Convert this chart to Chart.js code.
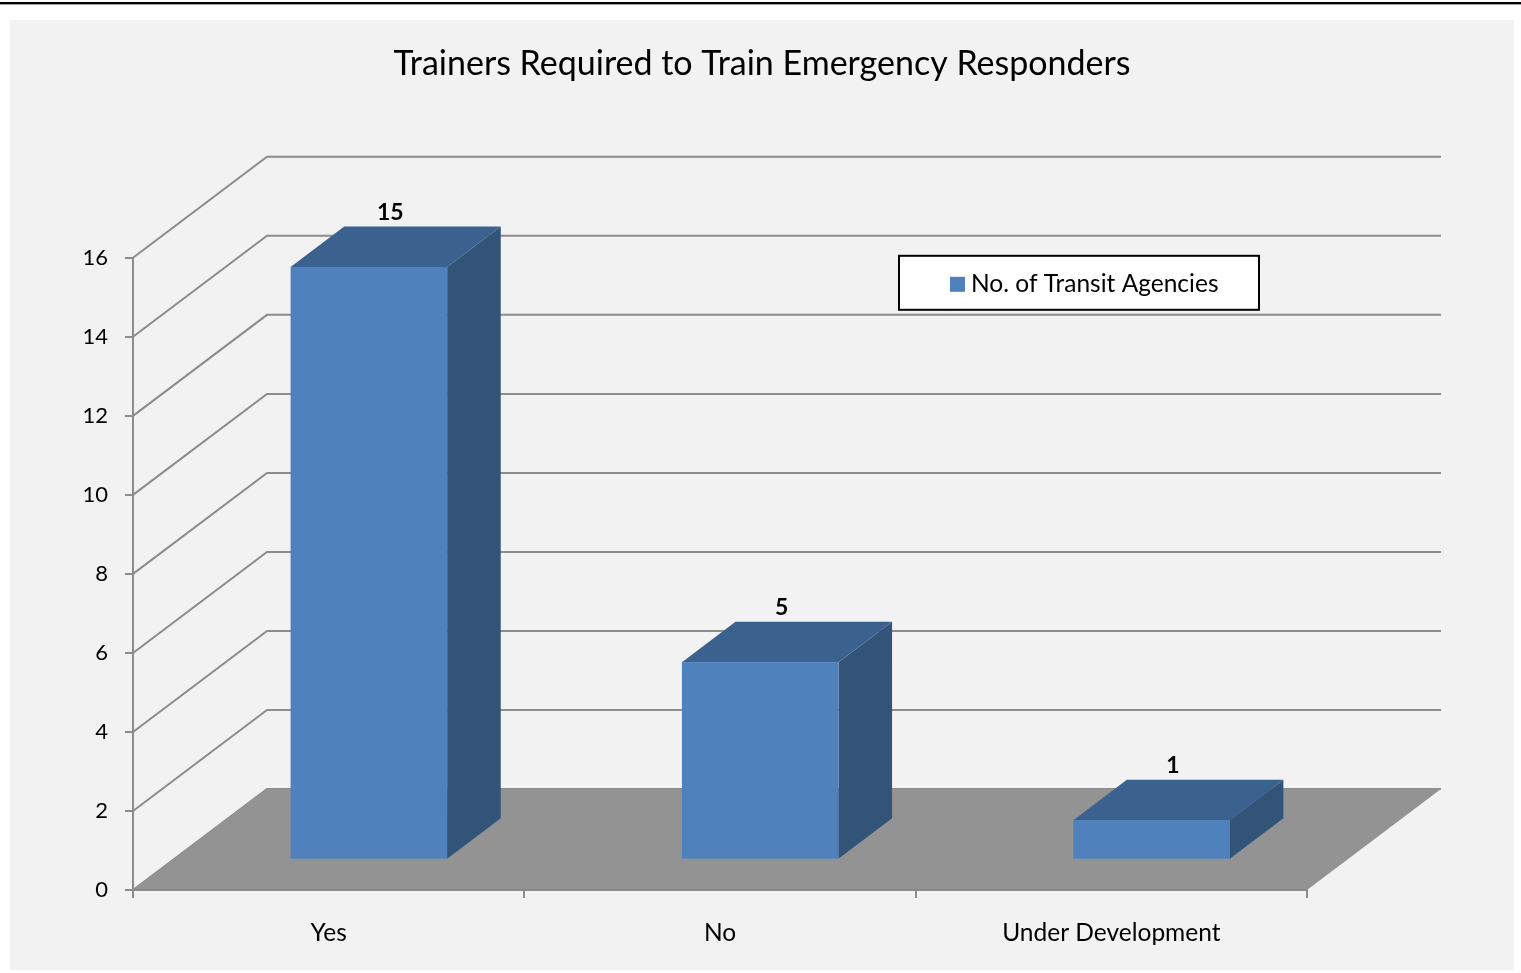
<!DOCTYPE html>
<html>
<head>
<meta charset="utf-8">
<title>Trainers Required to Train Emergency Responders</title>
<script src="https://cdn.jsdelivr.net/npm/chart.js@4.4.1/dist/chart.umd.min.js"></script>
<style>
    html, body { margin: 0; padding: 0; background: #fff; }
    #topRule { position: absolute; left: 0; top: 2px; width: 1521px; height: 2px; background: #000; border-bottom: 1px solid #9a9a9a; }
    #chartBox { position: absolute; left: 10px; top: 20px; width: 1504px; height: 950px; background: #f2f2f2; }
</style>
</head>
<body>
<div id="topRule"></div>
<div id="chartBox"><canvas id="agencyChart"></canvas></div>
<script>
// Chart data
const chartTitle = 'Trainers Required to Train Emergency Responders';
const categories = ['Yes', 'No', 'Under Development'];
const agencyCounts = [15, 5, 1];
const seriesLabel = 'No. of Transit Agencies';
const yTickValues = [0, 2, 4, 6, 8, 10, 12, 14, 16];

// 3D look: how far the back wall sits from the front plane (px)
const DEPTH_X = 134;
const DEPTH_Y = -101;
const BAR_FRONT = 0.3;   // bars start 30% into the depth
const BAR_DEPTH = 0.4;   // and are 40% deep

const FONT = 'Lato, "Open Sans", sans-serif';

function poly(ctx, pts) {
    ctx.beginPath();
    ctx.moveTo(pts[0][0], pts[0][1]);
    for (let i = 1; i < pts.length; i++) ctx.lineTo(pts[i][0], pts[i][1]);
    ctx.closePath();
    ctx.fill();
}

// Draws back wall grid, floor and the 3D bars instead of the flat ones
const box3d = {
    id: 'box3d',
    beforeDatasetsDraw(chart) {
        const { ctx, chartArea: a, scales: { x, y } } = chart;
        ctx.save();

        // back wall gridlines
        ctx.strokeStyle = '#8c8c8c';
        ctx.lineWidth = 2;
        y.ticks.forEach(t => {
            const py = y.getPixelForValue(t.value);
            ctx.beginPath();
            ctx.moveTo(a.left, py);
            ctx.lineTo(a.left + DEPTH_X, py + DEPTH_Y);
            ctx.lineTo(a.right + DEPTH_X, py + DEPTH_Y);
            ctx.stroke();
        });

        // floor
        const y0 = y.getPixelForValue(0);
        ctx.fillStyle = '#939393';
        poly(ctx, [[a.left, y0], [a.left + DEPTH_X, y0 + DEPTH_Y], [a.right + DEPTH_X, y0 + DEPTH_Y], [a.right, y0]]);
        ctx.strokeStyle = '#8a8a8a';
        ctx.lineWidth = 2;
        ctx.beginPath();
        ctx.moveTo(a.left, y0);
        ctx.lineTo(a.right, y0);
        ctx.stroke();

        // bars
        const meta = chart.getDatasetMeta(0);
        const dx = BAR_DEPTH * DEPTH_X, dy = BAR_DEPTH * DEPTH_Y;
        meta.data.forEach(bar => {
            const w = bar.width;
            const fx = bar.x - w / 2 + BAR_FRONT * DEPTH_X;
            const ftop = bar.y + BAR_FRONT * DEPTH_Y;
            const fbot = bar.base + BAR_FRONT * DEPTH_Y;
            ctx.fillStyle = '#325479';  // side
            poly(ctx, [[fx + w, ftop], [fx + w + dx, ftop + dy], [fx + w + dx, fbot + dy], [fx + w, fbot]]);
            ctx.fillStyle = '#3b618f';  // top
            poly(ctx, [[fx, ftop], [fx + dx, ftop + dy], [fx + w + dx, ftop + dy], [fx + w, ftop]]);
            ctx.fillStyle = '#4f81bd';  // front
            ctx.fillRect(fx, ftop, w, fbot - ftop);
        });

        ctx.restore();
        return false; // skip the flat bars
    },
    afterDraw(chart) {
        const { ctx, chartArea: a } = chart;
        const meta = chart.getDatasetMeta(0);
        ctx.save();

        // value labels above each bar
        ctx.fillStyle = '#000';
        ctx.font = 'bold 23px ' + FONT;
        ctx.textAlign = 'center';
        ctx.textBaseline = 'alphabetic';
        meta.data.forEach((bar, i) => {
            const lx = bar.x + 0.46 * DEPTH_X;
            const ly = bar.y + (BAR_FRONT + BAR_DEPTH) * DEPTH_Y - 7;
            ctx.fillText(String(agencyCounts[i]), lx, ly);
        });

        // legend box
        const bx = a.left + 766, by = a.top - 2, bw = 360, bh = 54;
        ctx.fillStyle = '#fff';
        ctx.fillRect(bx, by, bw, bh);
        ctx.strokeStyle = '#000';
        ctx.lineWidth = 2;
        ctx.strokeRect(bx, by, bw, bh);
        ctx.fillStyle = '#4f81bd';
        ctx.fillRect(bx + 51, by + 21, 15, 15);
        ctx.fillStyle = '#000';
        ctx.font = '24.5px ' + FONT;
        ctx.textAlign = 'left';
        ctx.textBaseline = 'middle';
        ctx.fillText(seriesLabel, bx + 72, by + 28);

        ctx.restore();
    }
};

const ctx = document.getElementById('agencyChart').getContext('2d');
new Chart(ctx, {
    type: 'bar',
    data: {
        labels: categories,
        datasets: [{
            label: seriesLabel,
            data: agencyCounts,
            backgroundColor: '#4f81bd',
            categoryPercentage: 1,
            barPercentage: 0.4
        }]
    },
    options: {
        responsive: true,
        maintainAspectRatio: false,
        animation: false,
        plugins: {
            legend: { display: false },
            tooltip: { enabled: false },
            title: {
                display: true,
                text: chartTitle,
                color: '#000',
                font: { family: FONT, size: 34, weight: 'normal' },
                padding: { top: 24, bottom: 173 }
            }
        },
        scales: {
            x: {
                grid: { display: true, drawOnChartArea: false, offset: true, tickLength: 8, color: '#8c8c8c', lineWidth: 2 },
                border: { display: true, color: '#8c8c8c', width: 2 },
                ticks: { color: '#000', padding: 20, font: { family: FONT, size: 24.5 } },
                afterFit(scale) { scale.height = 80; }
            },
            y: {
                min: yTickValues[0],
                max: yTickValues[yTickValues.length - 1],
                ticks: { stepSize: yTickValues[1] - yTickValues[0], color: '#000', padding: 17, font: { family: FONT, size: 22 } },
                grid: { display: true, drawOnChartArea: false, tickLength: 8, color: '#8c8c8c', lineWidth: 2 },
                border: { display: true, color: '#8c8c8c', width: 2 },
                afterFit(scale) { scale.width = 123; }
            },
            // empty axis on the right: leaves room for the back wall depth
            yRoom: {
                position: 'right',
                ticks: { display: false },
                grid: { display: false },
                border: { display: false },
                afterFit(scale) { scale.width = 207; }
            }
        }
    },
    plugins: [box3d]
});
</script>
</body>
</html>
